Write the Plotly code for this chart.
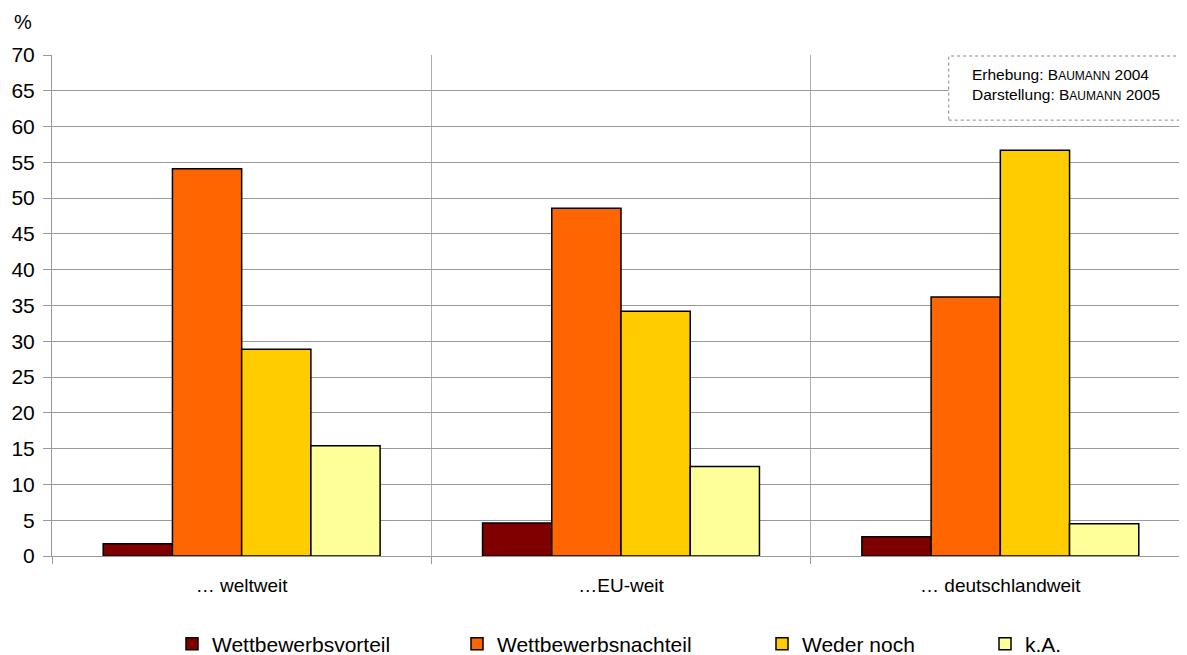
import plotly.graph_objects as go

categories = ["… weltweit", "…EU-weit", "… deutschlandweit"]
series_names = ["Wettbewerbsvorteil", "Wettbewerbsnachteil", "Weder noch", "k.A."]
vorteil = [1.7, 4.6, 2.7]
nachteil = [54.1, 48.6, 36.2]
weder = [28.9, 34.2, 56.7]
ka = [15.4, 12.5, 4.5]
colors = ["#800000", "#FF6600", "#FFCC00", "#FFFF99"]
y_ticks = list(range(0, 75, 5))

FONT = "Liberation Sans, Arial, sans-serif"
W, H = 1182, 647  # page body has an 8px margin inside the 1187x655 window

legend_ids = ["legend", "legend2", "legend3", "legend4"]
legend_left_px = [164, 449, 754, 977]

fig = go.Figure()
for name, vals, col, lid in zip(series_names, [vorteil, nachteil, weder, ka], colors, legend_ids):
    fig.add_trace(go.Bar(
        x=categories, y=vals, name=name, legend=lid,
        marker=dict(color=col, line=dict(color="black", width=1.5)),
    ))

legend_common = dict(orientation="h", xref="container", yref="container",
                     xanchor="left", y=0.017, yanchor="middle",
                     font=dict(size=21, family=FONT), itemwidth=30,
                     bgcolor="rgba(0,0,0,0)")
legend_layout = {}
for lid, px in zip(legend_ids, legend_left_px):
    legend_layout[lid] = dict(legend_common, x=px / W)

fig.update_layout(
    width=W, height=H,
    margin=dict(l=44, r=0, t=47, b=99, autoexpand=False),
    paper_bgcolor="white", plot_bgcolor="white",
    font=dict(family=FONT, color="black"),
    barmode="group", bargap=0.27, bargroupgap=0,
    showlegend=True,
    xaxis=dict(
        tickson="boundaries", ticks="outside", ticklen=7, tickcolor="#999999",
        showgrid=True, gridcolor="#b0b0b0", gridwidth=1,
        showline=True, linecolor="#999999", automargin=False,
        ticklabelstandoff=12,
        tickfont=dict(size=19, family=FONT),
    ),
    yaxis=dict(
        range=[0, 70], tickvals=y_ticks, ticks="outside", ticklen=8, tickcolor="#999999",
        showgrid=True, gridcolor="#999999", gridwidth=1,
        showline=True, linecolor="#999999", zeroline=False, automargin=False,
        ticklabelstandoff=4,
        tickfont=dict(size=21, family=FONT),
    ),
    **legend_layout,
)

fig.add_annotation(text="%", xref="paper", yref="paper", x=-0.035, y=1.066,
                   xanchor="left", yanchor="middle", showarrow=False,
                   font=dict(size=20, family=FONT))

fig.add_shape(type="rect", xref="paper", yref="paper",
              x0=0.788, x1=1.01, y0=0.870, y1=0.998,
              line=dict(color="#888888", width=1, dash="dot"), fillcolor="white")
fig.add_annotation(
    text=("Erhebung: B<span style='font-size:12px'>AUMANN</span> 2004<br>"
          "Darstellung: B<span style='font-size:12px'>AUMANN</span> 2005"),
    xref="paper", yref="paper", x=0.8065, y=0.942, xanchor="left", yanchor="middle",
    align="left", showarrow=False, font=dict(size=15.5, family=FONT))

fig.write_html("out.html")
